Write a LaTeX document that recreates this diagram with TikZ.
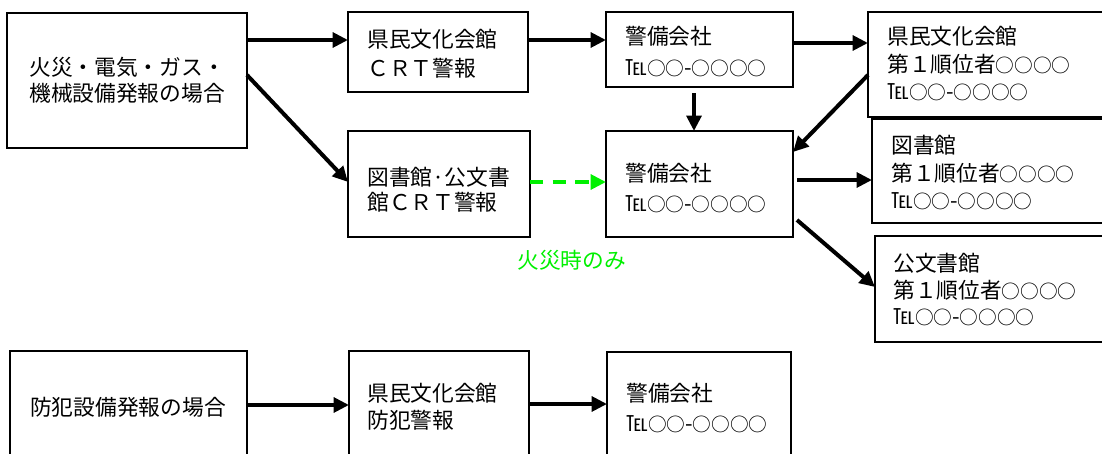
\documentclass[tikz,border=0pt]{standalone}
\usepackage{fontspec}
\setmainfont{Noto Sans CJK JP}
\usetikzlibrary{arrows.meta,calc}
\definecolor{fgreen}{HTML}{00F000}
\newcommand\smallcircs[1]{{\fontsize{14pt}{16pt}\selectfont #1}}
\newcommand\telno{℡\smallcircs{○○}-\smallcircs{○○○○}}
\begin{document}
\begin{tikzpicture}[x=0.75pt,y=-0.75pt,
  box/.style={draw, line width=1.2pt, anchor=north west, inner sep=0pt, outer sep=0pt},
  txt/.style={anchor=base west, inner sep=0pt, font=\fontsize{16.3pt}{19pt}\selectfont},
  arr/.style={line width=3pt, -{Triangle[length=11.5pt,width=11pt]}},
  garr/.style={arr, draw=fgreen, dash pattern=on 10pt off 7pt}]
\useasboundingbox (0,0) rectangle (1102,453);
\clip (0,0) rectangle (1102,453);
% boxes
\node[box, minimum width=180pt, minimum height=101.25pt] (A) at (7,13) {};
\node[box, minimum width=135pt, minimum height=60pt] (B) at (348,12) {};
\node[box, minimum width=136.5pt, minimum height=79.5pt] (C) at (348,131) {};
\node[box, minimum width=140.25pt, minimum height=56.25pt] (D) at (606,12) {};
\node[box, minimum width=140.25pt, minimum height=79.5pt] (E) at (606,131) {};
\node[box, minimum width=187.5pt, minimum height=78.75pt] (F) at (868,12) {};
\node[box, minimum width=180pt, minimum height=78pt] (G) at (872,119) {};
\node[box, minimum width=180pt, minimum height=79.5pt] (H) at (875,236) {};
\node[box, minimum width=177.75pt, minimum height=97.5pt] (I) at (10,351) {};
\node[box, minimum width=135pt, minimum height=97.5pt] (J) at (349,351) {};
\node[box, minimum width=138pt, minimum height=97.5pt] (K) at (607,352) {};
% texts
\node[txt] (A1) at (29,75) {火災・電気・ガス・};
\node[txt] (A2) at (29,101) {機械設備発報の場合};
\node[txt] (B1) at (367,48) {県民文化会館};
\node[txt] (B2) at (367,76) {ＣＲＴ警報};
\node[txt] (C1) at (367,185) {図書館·公文書};
\node[txt] (C2) at (367,210) {館ＣＲＴ警報};
\node[txt] (D1) at (625,45) {警備会社};
\node[txt] (D2) at (625,75) {\telno};
\node[txt] (E1) at (625,181) {警備会社};
\node[txt] (E2) at (625,211) {\telno};
\node[txt] (F1) at (887,45) {県民文化会館};
\node[txt] (F2) at (887,73) {第１順位者\smallcircs{○○○○}};
\node[txt] (F3) at (887,99) {\telno};
\node[txt] (G1) at (891,153) {図書館};
\node[txt] (G2) at (891,181) {第１順位者\smallcircs{○○○○}};
\node[txt] (G3) at (891,208) {\telno};
\node[txt] (H1) at (893,271) {公文書館};
\node[txt] (H2) at (893,298) {第１順位者\smallcircs{○○○○}};
\node[txt] (H3) at (893,324) {\telno};
\node[txt] (I1) at (30,415) {防犯設備発報の場合};
\node[txt] (J1) at (367,401) {県民文化会館};
\node[txt] (J2) at (367,428) {防犯警報};
\node[txt] (K1) at (626,401) {警備会社};
\node[txt] (K2) at (626,431) {\telno};
\node[txt, text=fgreen] (L) at (517,268) {火災時のみ};
% connectors
\draw[arr] ($(A.north east)+(0,27)$) -- ($(B.north west)+(0,28)$);
\draw[arr] ($(A.north east)+(0,62)$) -- ($(C.north west)+(0,51)$);
\draw[arr] ($(B.north east)+(0,28)$) -- ($(D.north west)+(0,28)$);
\draw[arr] ($(D.north east)+(0,31)$) -- ($(F.north west)+(0,31)$);
\draw[arr] ($(D.south west)+(88,6)$) -- ($(E.north west)+(88,0)$);
\draw[arr] ($(F.north west)+(0,63)$) -- ($(E.north east)+(0,21)$);
\draw[garr] ($(C.north east)+(0,51)$) -- ($(E.north west)+(0,51)$);
\draw[arr] ($(E.north east)+(4,49)$) -- ($(G.north west)+(0,61)$);
\draw[arr] ($(E.north east)+(4,89)$) -- ($(H.north west)+(0,51)$);
\draw[arr] ($(I.north east)+(0,54)$) -- ($(J.north west)+(0,54)$);
\draw[arr] ($(J.north east)+(0,53)$) -- ($(K.north west)+(0,52)$);
\end{tikzpicture}
\end{document}
